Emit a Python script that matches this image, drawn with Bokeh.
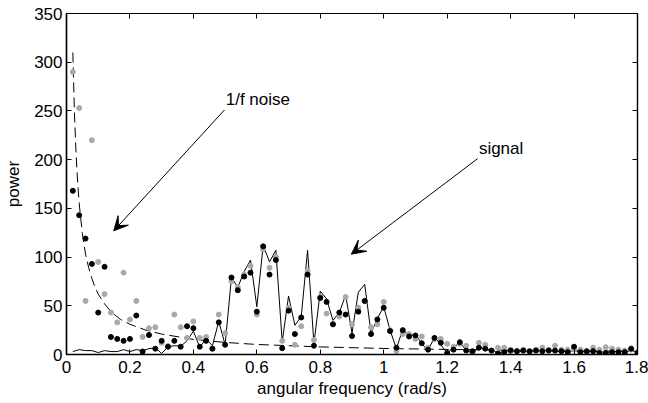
from bokeh.plotting import figure
from bokeh.models import (Range1d, LinearAxis, Arrow, VeeHead, Label,
                          CustomJSTickFormatter, FixedTicker)
from bokeh.embed import file_html
from bokeh.resources import INLINE

FONT = "Liberation Sans"

# angular frequency grid (rad/s)
freq = [0.02, 0.04, 0.06, 0.08, 0.10, 0.12, 0.14, 0.16, 0.18, 0.20,
        0.22, 0.24, 0.26, 0.28, 0.30, 0.32, 0.34, 0.36, 0.38, 0.40,
        0.42, 0.44, 0.46, 0.48, 0.50, 0.52, 0.54, 0.56, 0.58, 0.60,
        0.62, 0.64, 0.66, 0.68, 0.70, 0.72, 0.74, 0.76, 0.78, 0.80,
        0.82, 0.84, 0.86, 0.88, 0.90, 0.92, 0.94, 0.96, 0.98, 1.00,
        1.02, 1.04, 1.06, 1.08, 1.10, 1.12, 1.14, 1.16, 1.18, 1.20,
        1.22, 1.24, 1.26, 1.28, 1.30, 1.32, 1.34, 1.36, 1.38, 1.40,
        1.42, 1.44, 1.46, 1.48, 1.50, 1.52, 1.54, 1.56, 1.58, 1.60,
        1.62, 1.64, 1.66, 1.68, 1.70, 1.72, 1.74, 1.76, 1.78, 1.80]

# black dots
power_black = [168, 143, 119, 93, 43, 90, 18, 16, 14, 16,
               40, 3, 20, 6, 14, 8, 14, 8, 29, 27,
               8, 14, 6, 33, 10, 79, 66, 80, 84, 44,
               111, 82, 97, 6.5, 45, 21, 38, 82, 9, 58,
               54, 31, 43, 41, 19, 44, 55, 21, 36, 48,
               24, 7, 25, 18.5, 19.5, 11.6, 5, 17, 12, 1.5,
               5, 12.6, 4, 3.4, 7, 6, 4, 1, 2.4, 4,
               3.4, 4, 3.4, 4, 3.4, 4, 4, 3.4, 2.4, 8,
               2.4, 3.4, 3.4, 1.5, 1.5, 2.4, 2.4, 2.4, 6, 1.5]

# grey dots
power_grey = [290, 253, 55, 220, 95, 62, 43, 33, 84, 36,
              55, 18, 27, 28, 12, 8.6, 41, 28, 17, 34,
              17, 18, 6, 41, 22, 75, 69, 82, 91, 41,
              108, 89, 100, 14, 48, 10, 29, 86, 15, 59,
              42, 31, 39, 59, 31, 48, 55, 28, 31, 54,
              25, 3.4, 21, 21, 16, 18.5, 7, 16, 16, 11,
              8, 11, 9, 2.4, 12, 10, 4, 7, 7, 5,
              3.4, 5, 2.4, 5, 7, 5, 9, 5, 5, 5,
              5, 1.5, 7, 5, 7.5, 6, 5, 4, 5, 3]

# solid line (signal)
power_signal = [3, 5, 4, 4, 2, 4, 3, 3, 5, 3,
                5, 4, 6, 7, 1, 8, 9, 8.5, 14, 24,
                7.5, 16, 9, 34, 10, 79, 69, 85, 97, 49,
                112, 95, 107, 13, 60, 30, 39, 107, 11, 65,
                57, 35, 43, 61, 22, 64, 72, 22, 37, 49,
                25, 6, 26, 19, 21, 11, 4, 18, 10, 1.5,
                7, 12.6, 4, 1.5, 8, 5, 5, 1.5, 3, 4,
                3, 3, 3, 4, 4, 4, 3, 3, 3, 4,
                3, 3, 3, 3, 2, 3, 3, 3, 4, 2]

# dashed 1/f-noise curve
noise_freq = [0.02, 0.025, 0.03, 0.035, 0.04, 0.05, 0.06, 0.07, 0.08, 0.09,
              0.10, 0.12, 0.14, 0.17, 0.20, 0.25, 0.30, 0.40, 0.50, 0.60,
              0.80, 1.00, 1.20, 1.40, 1.60, 1.80]
noise_power = [310, 248, 207, 177, 155, 124, 103, 89, 78, 69,
               62, 52, 44, 36, 31, 25, 21, 15.5, 12.4, 10.3,
               7.8, 6.2, 5.2, 4.4, 3.9, 3.4]

x_ticks = [0, 0.2, 0.4, 0.6, 0.8, 1.0, 1.2, 1.4, 1.6, 1.8]
y_ticks = [0, 50, 100, 150, 200, 250, 300, 350]

# annotations: (text, text x, text y, arrow start x, start y, arrow tip x, tip y)
ann_noise = ("1/f noise", 0.502, 262, 0.498, 251, 0.149, 127)
ann_signal = ("signal", 1.300, 211, 1.296, 201, 0.898, 103)

p = figure(width=648, height=403, output_backend="svg", toolbar_location=None,
           x_range=Range1d(0, 1.8), y_range=Range1d(0, 350),
           min_border_left=66, min_border_right=11, min_border_top=13,
           min_border_bottom=49)
p.grid.visible = False
p.outline_line_color = "black"
p.outline_line_width = 1.2
p.background_fill_color = "white"
p.border_fill_color = "white"

fmt_x = CustomJSTickFormatter(code="return tick.toFixed(1).replace(/\\.0$/, '');")
p.xaxis.ticker = FixedTicker(ticks=x_ticks)
p.xaxis.formatter = fmt_x
p.yaxis.ticker = FixedTicker(ticks=y_ticks)
p.xaxis.axis_label = "angular frequency (rad/s)"
p.yaxis.axis_label = "power"

for ax in (p.xaxis[0], p.yaxis[0]):
    ax.major_tick_in = 5
    ax.major_tick_out = 0
    ax.minor_tick_in = 0
    ax.minor_tick_out = 0
    ax.axis_line_width = 1.5
    ax.major_tick_line_width = 1
    ax.major_label_text_font = FONT
    ax.major_label_text_font_size = "17px"
    ax.major_label_text_color = "black"
    ax.axis_label_text_font = FONT
    ax.axis_label_text_font_size = "17px"
    ax.axis_label_text_font_style = "normal"
    ax.axis_label_text_color = "black"
p.xaxis.major_label_standoff = 6
p.xaxis.axis_label_standoff = 3
p.yaxis.major_label_standoff = 4
p.yaxis.axis_label_standoff = 8

blank = CustomJSTickFormatter(code="return '';")
for loc, ticks in (("above", x_ticks), ("right", y_ticks)):
    ax = LinearAxis(ticker=FixedTicker(ticks=ticks), formatter=blank,
                    major_tick_in=5, major_tick_out=0,
                    minor_tick_in=0, minor_tick_out=0,
                    major_label_standoff=0, major_label_text_font_size="0px",
                    axis_line_width=1.2)
    p.add_layout(ax, loc)

p.line(freq, power_signal, line_color="black", line_width=1)
p.line(noise_freq, noise_power, line_color="black", line_width=1,
       line_dash="10 5")
p.scatter(freq, power_grey, size=5, fill_color="#a9a9a9",
          line_color="#a9a9a9")
p.scatter(freq, power_black, size=5, fill_color="black", line_color="black")

for text, tx, ty, xs, ys, xe, ye in (ann_noise, ann_signal):
    p.add_layout(Arrow(end=VeeHead(size=14, fill_color="black",
                                   line_color="black"),
                       x_start=xs, y_start=ys, x_end=xe, y_end=ye,
                       line_color="black", line_width=1))
    p.add_layout(Label(x=tx, y=ty, text=text, text_font=FONT,
                       text_font_size="17px", text_baseline="middle",
                       text_align="left", text_color="black"))

open("out.html", "w").write(file_html(p, INLINE))
